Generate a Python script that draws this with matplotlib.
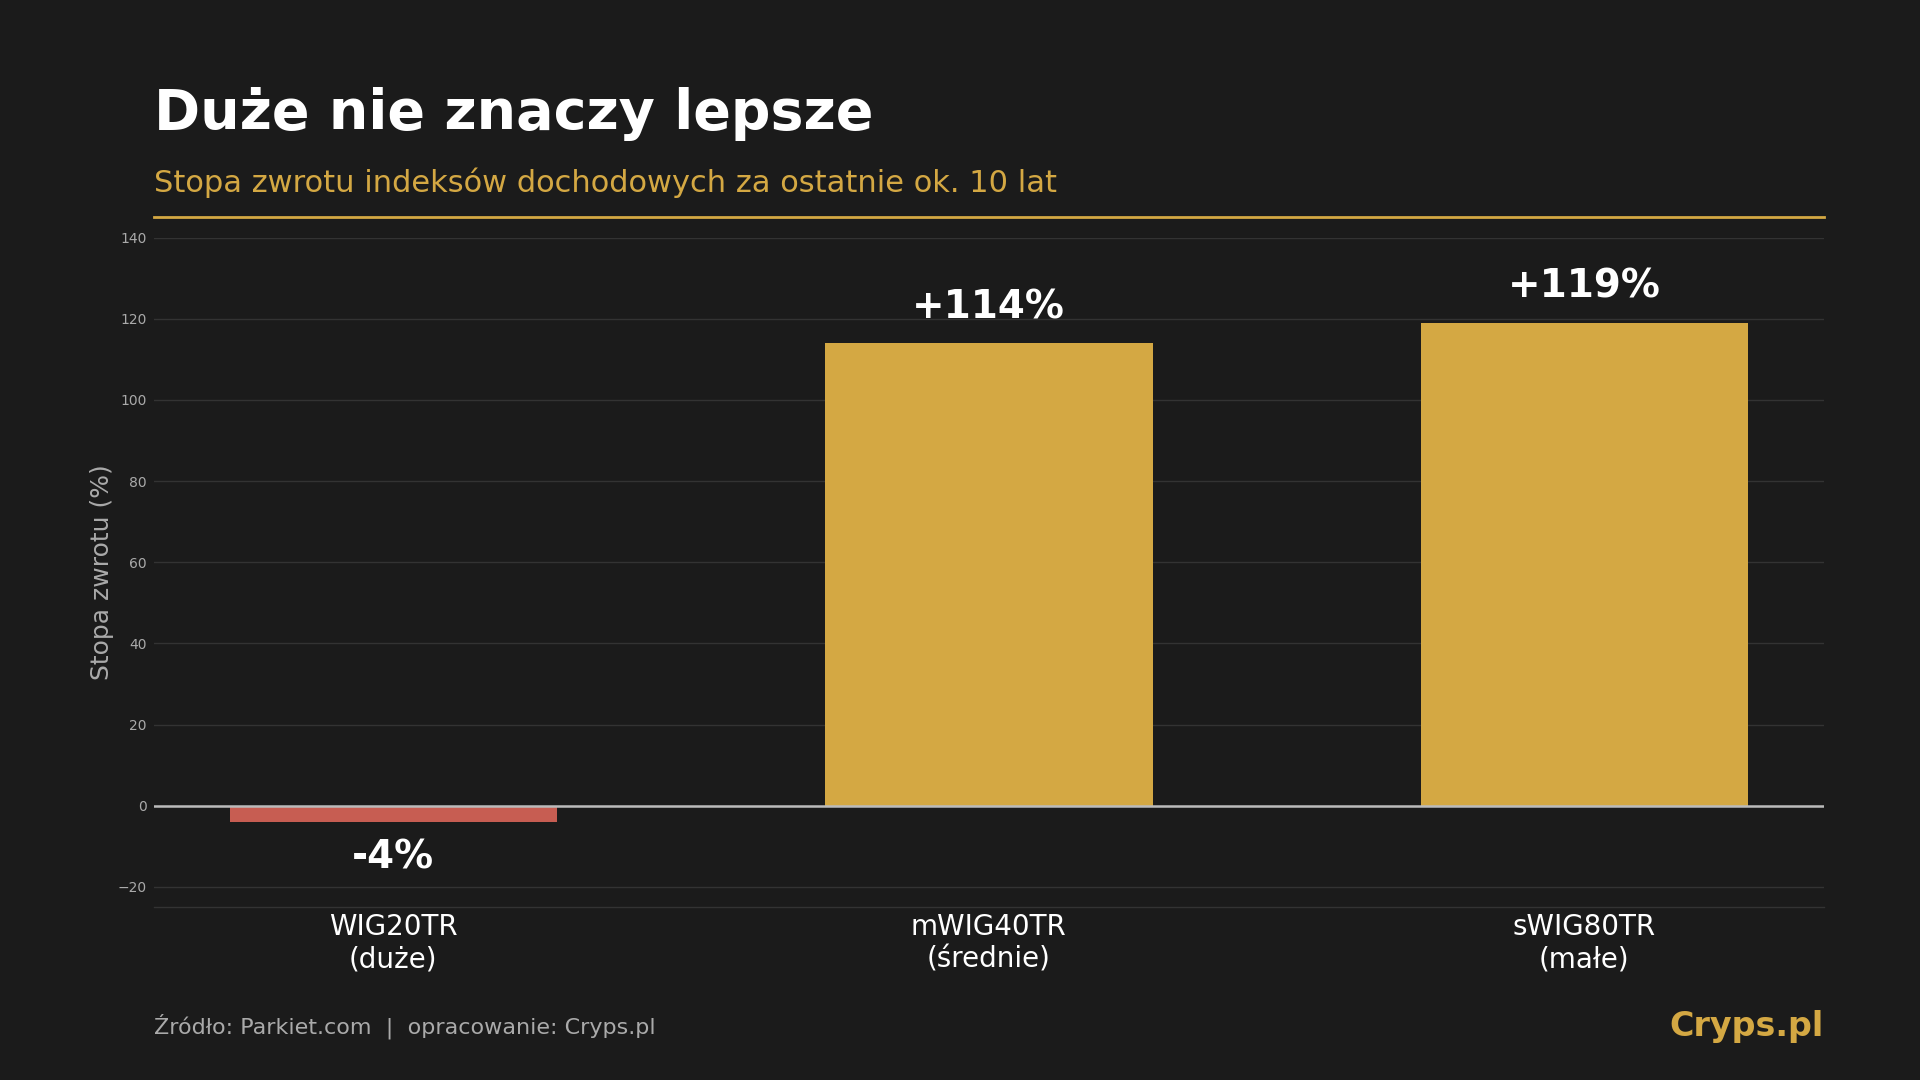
import matplotlib
matplotlib.use('Agg')
import matplotlib.pyplot as plt
import numpy as np

# data
indices = ['WIG20TR\n(duże)', 'mWIG40TR\n(średnie)', 'sWIG80TR\n(małe)']
returns = [-4, 114, 119]
value_labels = ['-4%', '+114%', '+119%']

BG = '#1b1b1b'
GOLD = '#d4a843'
RED = '#c75d52'
GRID = '#333333'
GRAY = '#aaaaaa'

plt.rcParams['font.family'] = ['DejaVu Sans']

fig = plt.figure(figsize=(19.2, 10.8), dpi=100, facecolor=BG)
ax = fig.add_axes([0.08, 0.16, 0.87, 0.62])
ax.set_facecolor(BG)

x = np.arange(len(indices))
colors = [RED if v < 0 else GOLD for v in returns]
ax.bar(x, returns, width=0.55, color=colors, zorder=2)

ax.set_ylim(-25, 140)
ax.set_yticks(np.arange(-20, 141, 20))
ax.grid(axis='y', color=GRID, linewidth=1, zorder=0)
ax.axhline(0, color='#bbbbbb', linewidth=1.8, zorder=3)

for s in ['top', 'left', 'right']:
    ax.spines[s].set_visible(False)
ax.spines['bottom'].set_color(GRID)
ax.spines['bottom'].set_linewidth(1)

ax.set_xticks(x)
ax.set_xticklabels(indices, fontsize=20, color='white')
ax.tick_params(axis='x', length=0, pad=4)
ax.tick_params(axis='y', length=0, pad=5, labelsize=10, labelcolor=GRAY)

ax.set_ylabel('Stopa zwrotu (%)', fontsize=18, color=GRAY)
ax.yaxis.set_label_coords(-0.0235, 0.5)

for xi, v, lab in zip(x, returns, value_labels):
    if v >= 0:
        ax.text(xi, v + 4.2, lab, ha='center', va='bottom', fontsize=28,
                fontweight='bold', color='white')
    else:
        ax.text(xi, v - 4, lab, ha='center', va='top', fontsize=28,
                fontweight='bold', color='white')

# header
fig.text(0.08, 0.8806, 'Duże nie znaczy lepsze', fontsize=40, fontweight='bold',
         color='white', ha='left', va='baseline')
fig.text(0.08, 0.8222, 'Stopa zwrotu indeksów dochodowych za ostatnie ok. 10 lat',
         fontsize=22, color=GOLD, ha='left', va='baseline')
fig.add_artist(plt.Line2D([0.08, 0.95], [0.7994, 0.7994], color=GOLD,
                          linewidth=2, transform=fig.transFigure))

# footer
fig.text(0.08, 0.0426, 'Źródło: Parkiet.com  |  opracowanie: Cryps.pl',
         fontsize=16, color=GRAY, ha='left', va='baseline')
fig.text(0.95, 0.0407, 'Cryps.pl', fontsize=24, fontweight='bold', color=GOLD,
         ha='right', va='baseline')

fig.savefig('out.png', dpi=100, facecolor=BG)
